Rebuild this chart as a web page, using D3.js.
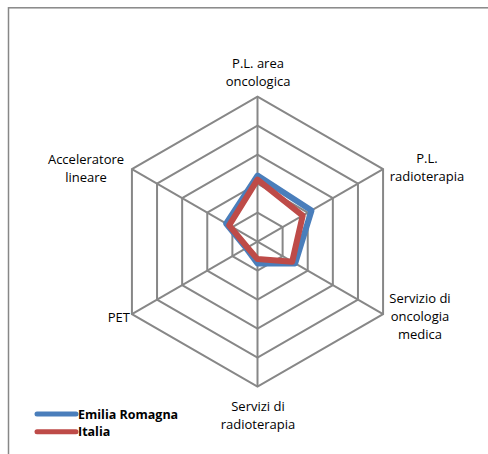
<!DOCTYPE html>
<html lang="it">
<head>
<meta charset="UTF-8">
<script src="https://d3js.org/d3.v7.min.js"></script>
<style>
  body { margin: 0; background: #fff; }
  svg { display: block; font-family: 'Open Sans', Lato, sans-serif; }
</style>
</head>
<body>
<svg id="chart" width="488" height="454"></svg>
<script>
// axes clockwise from the top
const axes = ["P.L. area oncologica", "P.L. radioterapia", "Servizio di oncologia medica",
              "Servizi di radioterapia", "PET", "Acceleratore lineare"];
const emiliaRomagna = [2.28, 2.15, 1.5, 0.75, 0.45, 1.25];
const italia = [2.14, 1.8, 1.38, 0.6, 0.4, 1.13];
const ringLevels = [1, 2, 3, 4, 5];

const seriesNames = ["Emilia Romagna", "Italia"];
const seriesColors = ["#4a7ebb", "#be4b48"];

// label lines per axis
const labelLines = [
    ["P.L. area", "oncologica"],
    ["P.L.", "radioterapia"],
    ["Servizio di", "oncologia", "medica"],
    ["Servizi di", "radioterapia"],
    ["PET"],
    ["Acceleratore", "lineare"]
];

const svg = d3.select("#chart");
const cx = 257.5, cy = 241.7, R = 145;

// outer frame (cut by the window on the right and bottom)
svg.append("rect")
    .attr("x", 8.5).attr("y", 7.8)
    .attr("width", 600).attr("height", 600)
    .attr("fill", "none").attr("stroke", "#878787").attr("stroke-width", 1.5);

const r = d3.scaleLinear().domain([0, 5]).range([0, R]);
const angle = d3.scalePoint().domain(d3.range(axes.length)).range([0, 2 * Math.PI * (axes.length - 1) / axes.length]);

function pt(i, v) {
    const a = angle(i) - Math.PI / 2;
    return [cx + r(v) * Math.cos(a), cy + r(v) * Math.sin(a)];
}

const g = svg.append("g");

// rings
ringLevels.forEach(lv => {
    g.append("path")
        .attr("d", d3.line()(axes.map((_, i) => pt(i, lv))) + "Z")
        .attr("fill", "none").attr("stroke", "#878787").attr("stroke-width", 2);
});

// spokes
axes.forEach((_, i) => {
    const p = pt(i, 5);
    g.append("line")
        .attr("x1", cx).attr("y1", cy).attr("x2", p[0]).attr("y2", p[1])
        .attr("stroke", "#878787").attr("stroke-width", 2);
});

// data polygons
[emiliaRomagna, italia].forEach((vals, s) => {
    g.append("path")
        .attr("d", d3.line()(vals.map((v, i) => pt(i, v))) + "Z")
        .attr("fill", "none")
        .attr("stroke", seriesColors[s])
        .attr("stroke-width", 6)
        .attr("stroke-linejoin", "round");
});

// axis labels
const labelPos = [
    { x: 258, y: 68, anchor: "middle" },
    { x: 427, y: 162.7, anchor: "middle" },
    { x: 420, y: 303, anchor: "middle" },
    { x: 258, y: 411, anchor: "middle" },
    { x: 130, y: 321.5, anchor: "end" },
    { x: 86, y: 164, anchor: "middle" }
];
const lineH = 17.8;

labelLines.forEach((lines, i) => {
    const t = svg.append("text")
        .attr("x", labelPos[i].x).attr("y", labelPos[i].y)
        .attr("text-anchor", labelPos[i].anchor)
        .attr("font-size", 13).attr("fill", "#000");
    lines.forEach((ln, k) => {
        t.append("tspan").attr("x", labelPos[i].x).attr("dy", k === 0 ? 0 : lineH).text(ln);
    });
});

// legend
const legend = svg.append("g");
seriesNames.forEach((name, s) => {
    const y = 414 + s * 17.7;
    legend.append("line")
        .attr("x1", 37).attr("x2", 76).attr("y1", y).attr("y2", y)
        .attr("stroke", seriesColors[s]).attr("stroke-width", 5).attr("stroke-linecap", "round");
    legend.append("text")
        .attr("x", 78).attr("y", y + 4.5)
        .attr("font-size", 12.5).attr("font-weight", "bold").attr("fill", "#000")
        .text(name);
});
</script>
</body>
</html>
